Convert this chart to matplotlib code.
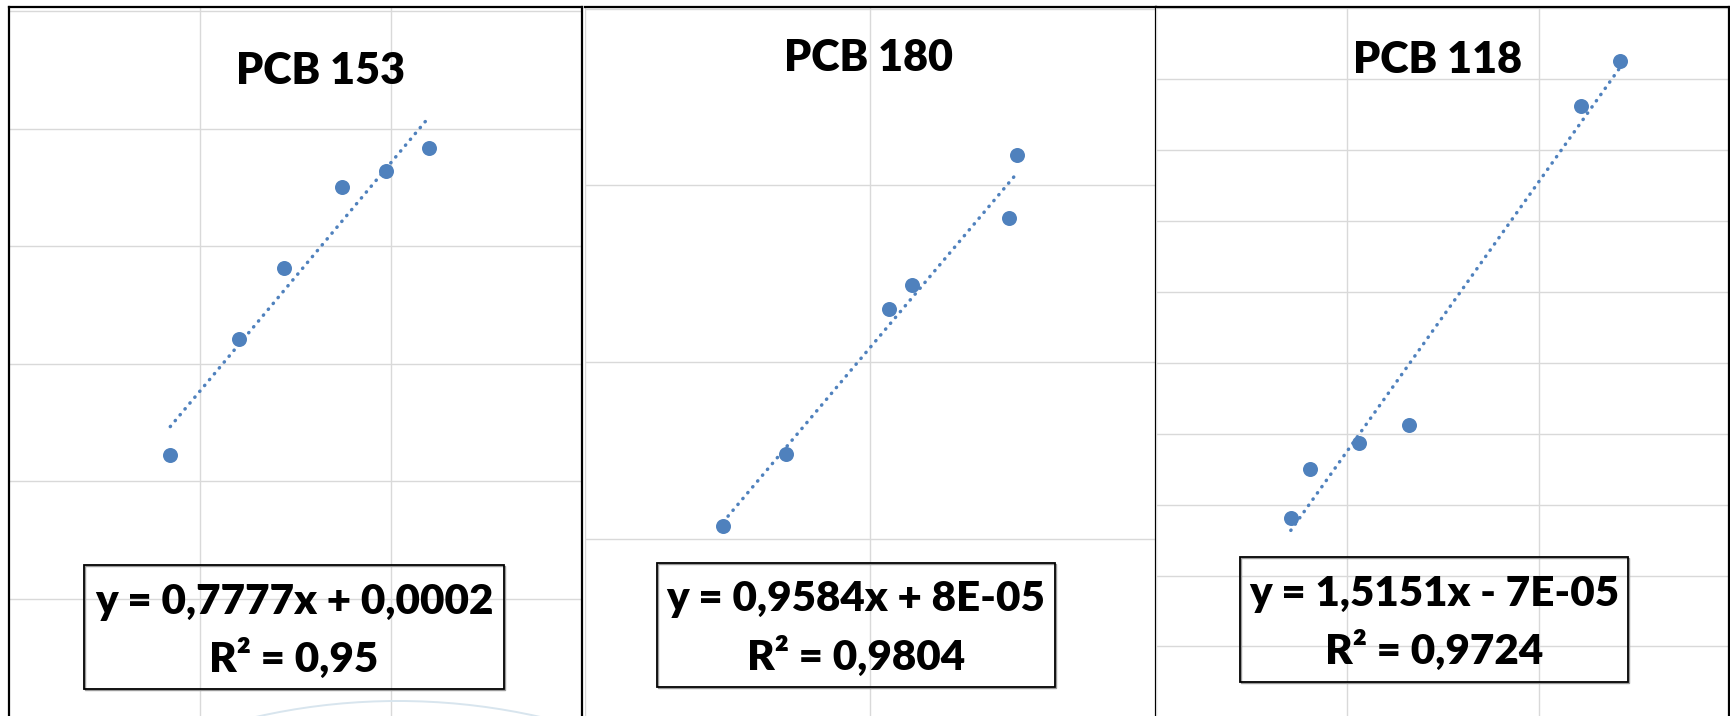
import numpy as np
import matplotlib
matplotlib.use("Agg")
import matplotlib.pyplot as plt
from matplotlib.patches import Rectangle, Ellipse

# Data in grid units (one unit = one gridline step of each chart)
titles = ["PCB 153", "PCB 180", "PCB 118"]

x153 = [0.845, 1.204, 1.440, 1.746, 1.976, 2.201]
y153 = [2.227, 3.214, 3.817, 4.505, 4.644, 4.835]

x180 = [0.484, 0.706, 1.066, 1.145, 1.484, 1.515]
y180 = [1.072, 1.479, 2.300, 2.436, 2.818, 3.173]

x118 = [0.705, 0.805, 1.063, 1.323, 2.218, 2.423]
y118 = [2.808, 3.503, 3.864, 4.122, 8.621, 9.258]

equations = ["y = 0,7777x + 0,0002", "y = 0,9584x + 8E-05", "y = 1,5151x - 7E-05"]
r2_labels = ["R\u00b2 = 0,95", "R\u00b2 = 0,9804", "R\u00b2 = 0,9724"]

W, H = 1731, 716
BLUE = "#4f81bd"
GRID = "#d9d9d9"
FONT = "Lato"
WEIGHT = "heavy"


def frac(x0, y0, x1, y1):
    # pixel box (top-left origin) -> figure fraction rect
    return [x0 / W, 1 - y1 / H, (x1 - x0) / W, (y1 - y0) / H]


fig = plt.figure(figsize=(W / 100, H / 100), dpi=100)
fig.patch.set_facecolor("white")

# per panel: axes pixel box, limits, gridline ticks, visible spines
panels = [
    dict(box=(8.8, 6.8, 582.1, 716), xlim=(0, 3), ylim=(0, 6.04),
         xt=[1, 2], yt=[1, 2, 3, 4, 5, 6], spines=["left", "top", "right"],
         x=x153, y=y153, title=(320.7, 84.3),
         tbox=(84, 565, 504, 689), lines=(614, 672)),
    dict(box=(585, 6.8, 1155.8, 716), xlim=(0, 2), ylim=(0, 4.01),
         xt=[0, 1, 2], yt=[1, 2, 3, 4], spines=["top", "right"],
         x=x180, y=y180, title=(869, 70.8),
         tbox=(657, 563, 1055, 687), lines=(611, 670)),
    dict(box=(1155.8, 6.8, 1729, 716), xlim=(0, 2.993), ylim=(0.02, 10.02),
         xt=[0, 1, 2], yt=list(range(1, 11)), spines=["top", "right"],
         x=x118, y=y118, title=(1438, 73),
         tbox=(1240, 557, 1628, 682), lines=(606, 664)),
]

for i, p in enumerate(panels):
    ax = fig.add_axes(frac(*p["box"]))
    ax.set_xlim(*p["xlim"])
    ax.set_ylim(*p["ylim"])
    ax.set_xticks(p["xt"])
    ax.set_yticks(p["yt"])
    ax.tick_params(length=0, labelbottom=False, labelleft=False)
    ax.grid(True, color=GRID, lw=1.0)
    ax.set_axisbelow(True)
    for s in ["left", "right", "top", "bottom"]:
        ax.spines[s].set_visible(s in p["spines"])
        ax.spines[s].set_color("black")
        ax.spines[s].set_linewidth(1.6)

    xs = np.array(p["x"])
    ys = np.array(p["y"])
    ax.plot(xs, ys, "o", ms=10.8, color=BLUE, mec="none", zorder=3)

    # linear trendline over the data range
    k, b = np.polyfit(xs, ys, 1)
    xt = np.array([xs.min(), xs.max()])
    ax.plot(xt, k * xt + b, color=BLUE, lw=2.5, dashes=(0.1, 2.1),
            dash_capstyle="round", zorder=4)

    tx, ty = p["title"]
    fig.text(tx / W, 1 - ty / H, titles[i], ha="center", va="baseline",
             fontsize=31, fontweight=WEIGHT, family=FONT)

    x0, y0, x1, y1 = p["tbox"]
    fig.patches.append(Rectangle((x0 / W + 1.2 / W, 1 - y1 / H - 1.2 / H),
                                 (x1 - x0) / W, (y1 - y0) / H, fill=False,
                                 ec="#9a9a9a", lw=1.0,
                                 transform=fig.transFigure, figure=fig))
    fig.patches.append(Rectangle((x0 / W, 1 - y1 / H), (x1 - x0) / W,
                                 (y1 - y0) / H, fill=False, ec="black",
                                 lw=1.3, transform=fig.transFigure, figure=fig))
    cx = (x0 + x1) / 2
    l1, l2 = p["lines"]
    fig.text(cx / W, 1 - l1 / H, equations[i], ha="center", va="baseline",
             fontsize=30.3, fontweight=WEIGHT, family=FONT)
    fig.text(cx / W, 1 - l2 / H, r2_labels[i], ha="center", va="baseline",
             fontsize=30.3, fontweight=WEIGHT, family=FONT)

# faint arc peeking in at the bottom of the first panel
fig.patches.append(Ellipse((398 / W, 1 - 1343 / H), 2 * 642 / W, 2 * 642 / H,
                           fill=False, ec="#d8e5ee", lw=1.4,
                           transform=fig.transFigure, figure=fig))

fig.savefig("out.png", dpi=100, facecolor="white")
